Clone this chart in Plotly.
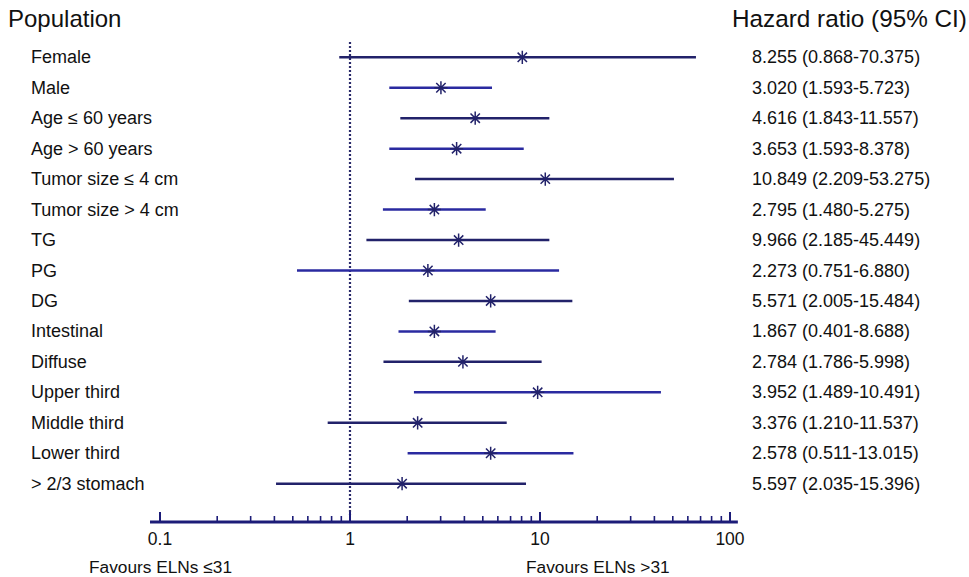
import plotly.graph_objects as go

# ---------------- data ----------------
populations = ["Female", "Male", "Age ≤ 60 years", "Age > 60 years", "Tumor size ≤ 4 cm",
               "Tumor size > 4 cm", "TG", "PG", "DG", "Intestinal", "Diffuse",
               "Upper third", "Middle third", "Lower third", "> 2/3 stomach"]
hr_plot = [8.07, 3.01, 4.56, 3.64, 10.66, 2.78, 3.73, 2.57, 5.50, 2.78, 3.93, 9.72, 2.27, 5.50, 1.88]
lo_plot = [0.878, 1.61, 1.84, 1.61, 2.20, 1.49, 1.22, 0.526, 2.04, 1.80, 1.50, 2.17, 0.763, 2.01, 0.408]
hi_plot = [66.2, 5.59, 11.2, 8.21, 50.7, 5.18, 11.2, 12.6, 14.8, 5.84, 10.2, 43.3, 6.68, 15.0, 8.44]
hr_labels = ["8.255 (0.868-70.375)", "3.020 (1.593-5.723)", "4.616 (1.843-11.557)",
             "3.653 (1.593-8.378)", "10.849 (2.209-53.275)", "2.795 (1.480-5.275)",
             "9.966 (2.185-45.449)", "2.273 (0.751-6.880)", "5.571 (2.005-15.484)",
             "1.867 (0.401-8.688)", "2.784 (1.786-5.998)", "3.952 (1.489-10.491)",
             "3.376 (1.210-11.537)", "2.578 (0.511-13.015)", "5.597 (2.035-15.396)"]
major_ticks = [0.1, 1, 10, 100]
major_labels = ["0.1", "1", "10", "100"]
minor_ticks = [0.2, 0.3, 0.4, 0.5, 0.6, 0.7, 0.8, 0.9,
               2, 3, 4, 5, 6, 7, 8, 9,
               20, 30, 40, 50, 60, 70, 80, 90]
axis_min, axis_max = 0.0886, 110

# ---------------- style ----------------
FONT = "Arial, Liberation Sans, sans-serif"
DARK = "#22226a"
BLUE = "#2a2aa0"
AXIS = "#1c1c78"
TXT = "#111111"
W, H = 969, 577

n = len(populations)
rows = list(range(n))
axis_row = 15.257

fig = go.Figure()

# dotted reference line at HR = 1
fig.add_trace(go.Scatter(x=[1, 1], y=[-0.5, 15.03], mode="lines",
                         line=dict(color="#2a2a6a", width=2.2, dash="2px,2px"),
                         hoverinfo="skip", showlegend=False))

# CI lines
for i in rows:
    col = DARK if i % 2 == 0 else BLUE
    fig.add_trace(go.Scatter(x=[lo_plot[i], hi_plot[i]], y=[i, i], mode="lines",
                             line=dict(color=col, width=2.5),
                             hoverinfo="skip", showlegend=False))

# point estimates
fig.add_trace(go.Scatter(x=hr_plot, y=rows, mode="markers",
                         marker=dict(symbol="asterisk-open", size=11, color=DARK,
                                     line=dict(color=DARK, width=1.5)),
                         showlegend=False))

# axis line
fig.add_trace(go.Scatter(x=[axis_min, axis_max], y=[axis_row, axis_row], mode="lines",
                         line=dict(color=AXIS, width=3), hoverinfo="skip", showlegend=False))
# major ticks
mx, my = [], []
for t in major_ticks:
    mx += [t, t, None]
    my += [axis_row, 14.93, None]
fig.add_trace(go.Scatter(x=mx, y=my, mode="lines", line=dict(color=AXIS, width=2),
                         hoverinfo="skip", showlegend=False))
# minor ticks
nx, ny = [], []
for t in minor_ticks:
    nx += [t, t, None]
    ny += [axis_row, 15.06, None]
fig.add_trace(go.Scatter(x=nx, y=ny, mode="lines", line=dict(color=AXIS, width=1.6),
                         hoverinfo="skip", showlegend=False))
# tick labels
fig.add_trace(go.Scatter(x=major_ticks, y=[15.87] * len(major_ticks), mode="text",
                         text=major_labels, textposition="middle center",
                         textfont=dict(family=FONT, size=17.5, color=TXT),
                         hoverinfo="skip", showlegend=False))

annotations = []
for i in rows:
    annotations.append(dict(x=29 / W, xref="paper", y=i, yref="y", text=populations[i],
                            showarrow=False, xanchor="left", yanchor="middle",
                            font=dict(family=FONT, size=18, color=TXT)))
    annotations.append(dict(x=750 / W, xref="paper", y=i, yref="y", text=hr_labels[i],
                            showarrow=False, xanchor="left", yanchor="middle",
                            font=dict(family=FONT, size=18, color=TXT)))

annotations.append(dict(x=6 / W, xref="paper", y=1 - 19 / H, yref="paper", text="Population",
                        showarrow=False, xanchor="left", yanchor="middle",
                        font=dict(family=FONT, size=24, color=TXT)))
annotations.append(dict(x=730 / W, xref="paper", y=1 - 19 / H, yref="paper",
                        text="Hazard ratio (95% CI)",
                        showarrow=False, xanchor="left", yanchor="middle",
                        font=dict(family=FONT, size=24.3, color=TXT)))
annotations.append(dict(x=87 / W, xref="paper", y=1 - 567 / H, yref="paper",
                        text="Favours ELNs ≤31",
                        showarrow=False, xanchor="left", yanchor="middle",
                        font=dict(family=FONT, size=17.3, color=TXT)))
annotations.append(dict(x=524 / W, xref="paper", y=1 - 567 / H, yref="paper",
                        text="Favours ELNs >31",
                        showarrow=False, xanchor="left", yanchor="middle",
                        font=dict(family=FONT, size=17.3, color=TXT)))

fig.update_layout(
    width=W, height=H,
    margin=dict(l=0, r=0, t=0, b=0),
    paper_bgcolor="white", plot_bgcolor="white",
    showlegend=False,
    annotations=annotations,
    xaxis=dict(type="log", range=[-350 / 190, 619 / 190], visible=False, fixedrange=True),
    yaxis=dict(range=[17.063, -1.881], visible=False, fixedrange=True),
)

fig.write_html("out.html")
